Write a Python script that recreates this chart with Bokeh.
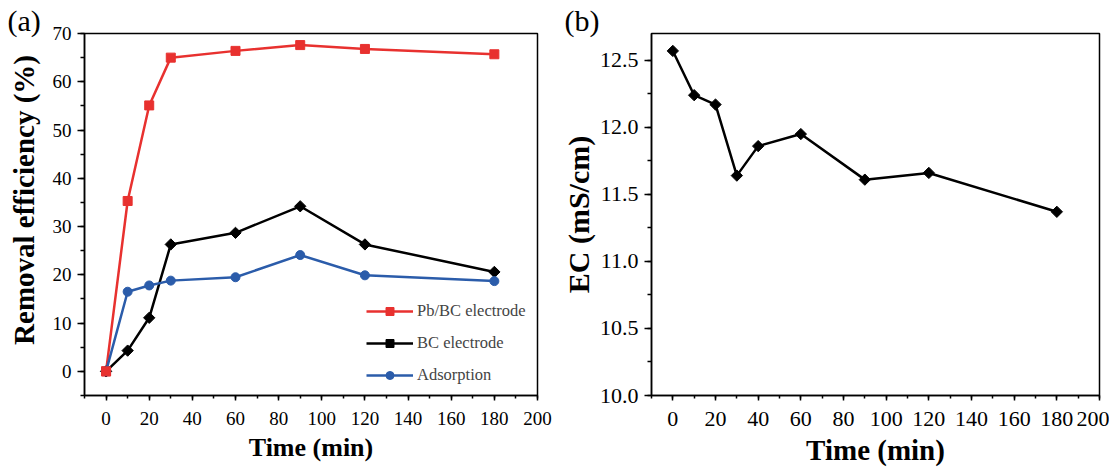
import numpy as np
from bokeh.plotting import figure
from bokeh.models import (SingleIntervalTicker, Legend, LegendItem, Title,
                          Range1d, NumeralTickFormatter)
from bokeh.layouts import row
from bokeh.embed import file_html
from bokeh.resources import INLINE

# ---------------- data ----------------
time_a = [0, 10, 20, 30, 60, 90, 120, 180]
pb_bc = [0, 35.3, 55.1, 65.0, 66.4, 67.6, 66.8, 65.7]
bc = [0, 4.3, 11.1, 26.3, 28.7, 34.2, 26.3, 20.6]
adsorption = [0, 16.5, 17.8, 18.8, 19.5, 24.1, 19.9, 18.7]

time_b = [0, 10, 20, 30, 40, 60, 90, 120, 180]
ec = [12.57, 12.24, 12.17, 11.64, 11.86, 11.95, 11.61, 11.66, 11.37]

labels_a = ["Pb/BC electrode", "BC electrode", "Adsorption"]

FONT = "'Liberation Serif', serif"
BFONT = "Liberation Serif"
RED = "#E8312F"
BLUE = "#2B5CAA"
BLACK = "#000000"


def style(p, tick_size, xlab_size, ylab_size, ylab_standoff):
    p.outline_line_color = "black"
    p.outline_line_width = 1.5
    p.outline_line_alpha = 1.0
    p.grid.visible = False
    p.background_fill_color = "white"
    p.border_fill_color = "white"
    for ax in (p.xaxis[0], p.yaxis[0]):
        ax.axis_line_width = 1.5
        ax.major_tick_line_width = 1.5
        ax.minor_tick_line_width = 1.5
        ax.major_tick_in = 0
        ax.minor_tick_in = 0
        ax.major_label_text_font = FONT
        ax.major_label_text_font_size = f"{tick_size}px"
        ax.major_label_text_color = "black"
        ax.axis_label_text_font = BFONT
        ax.axis_label_text_font_style = "bold"
        ax.axis_label_text_color = "black"
    p.xaxis[0].major_tick_out = 5
    p.xaxis[0].minor_tick_out = 3
    p.xaxis[0].major_label_standoff = 11
    p.xaxis[0].axis_label_standoff = 5
    p.xaxis[0].axis_label_text_font_size = f"{xlab_size}px"
    p.yaxis[0].major_tick_out = 7
    p.yaxis[0].minor_tick_out = 4
    p.yaxis[0].major_label_standoff = 6
    p.yaxis[0].axis_label_standoff = ylab_standoff
    p.yaxis[0].axis_label_text_font_size = f"{ylab_size}px"


def panel_tag(p, text, offset):
    p.add_layout(Title(text=text, align="left", offset=offset, standoff=-6,
                       text_font=FONT, text_font_size="30px",
                       text_font_style="normal", text_color="black"), "above")


H = 468
TOP = 33
FH = 364

# ---------------- panel (a) ----------------
p1 = figure(width=558, height=H, output_backend="svg", toolbar_location=None,
            x_range=Range1d(-10, 200), y_range=Range1d(-5, 70),
            min_border_left=84, min_border_right=21, min_border_top=TOP,
            min_border_bottom=H - TOP - FH)
p1.xaxis.ticker = SingleIntervalTicker(interval=20, num_minor_ticks=2)
p1.yaxis.ticker = SingleIntervalTicker(interval=10, num_minor_ticks=2)
p1.xaxis.axis_label = "Time (min)"
p1.yaxis.axis_label = "\u00a0\u00a0\u00a0\u00a0Removal efficiency (%)"
style(p1, 19, 26, 29, 10)

l1 = p1.line(time_a, pb_bc, line_color=RED, line_width=2.5)
s1 = p1.scatter(time_a, pb_bc, marker="square", size=9, fill_color=RED, line_color=RED)
l2 = p1.line(time_a, bc, line_color=BLACK, line_width=2.5)
s2 = p1.scatter(time_a, bc, marker="square", size=8, angle=np.pi / 4,
                fill_color=BLACK, line_color=BLACK)
l3 = p1.line(time_a, adsorption, line_color=BLUE, line_width=2.5)
s3 = p1.scatter(time_a, adsorption, marker="circle", size=9, fill_color=BLUE, line_color=BLUE)
p1.scatter(time_a[:1], pb_bc[:1], marker="square", size=9, fill_color=RED, line_color=RED)

legend = Legend(items=[LegendItem(label=labels_a[0], renderers=[l1, s1]),
                       LegendItem(label=labels_a[1], renderers=[l2, s2]),
                       LegendItem(label=labels_a[2], renderers=[l3, s3])],
                location=(282, 10), padding=0, margin=0, spacing=12,
                glyph_width=47, glyph_height=20, label_height=20,
                label_standoff=4, border_line_alpha=0, background_fill_alpha=0,
                label_text_font=FONT, label_text_font_size="16.5px")
p1.add_layout(legend, "center")
panel_tag(p1, "(a)", -77)

# ---------------- panel (b) ----------------
p2 = figure(width=551, height=H, output_backend="svg", toolbar_location=None,
            x_range=Range1d(-10, 200), y_range=Range1d(10.0, 12.7),
            min_border_left=89, min_border_right=10, min_border_top=TOP,
            min_border_bottom=H - TOP - FH)
p2.xaxis.ticker = SingleIntervalTicker(interval=20, num_minor_ticks=2)
p2.yaxis.ticker = SingleIntervalTicker(interval=0.5, num_minor_ticks=2)
p2.yaxis.formatter = NumeralTickFormatter(format="0.0")
p2.xaxis.axis_label = "Time (min)"
p2.yaxis.axis_label = "EC (mS/cm)"
style(p2, 22, 29, 30, 2)

p2.line(time_b, ec, line_color=BLACK, line_width=2.5)
p2.scatter(time_b, ec, marker="square", size=8, angle=np.pi / 4,
           fill_color=BLACK, line_color=BLACK)
panel_tag(p2, "(b)", -87)

layout = row(p1, p2)
open("out.html", "w").write(file_html(layout, INLINE))
